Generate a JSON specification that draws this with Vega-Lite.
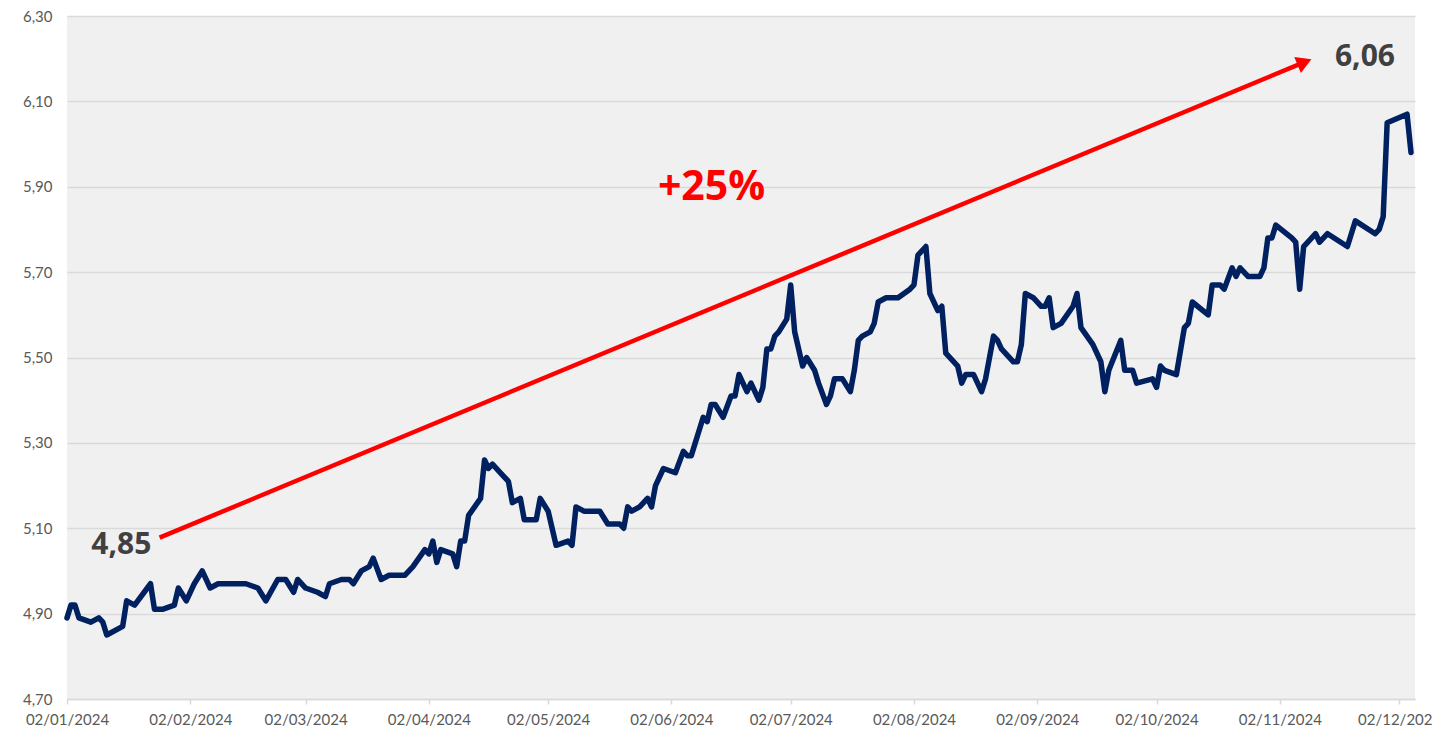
{
  "$schema": "https://vega.github.io/schema/vega-lite/v6.json",
  "width": 1348,
  "height": 683,
  "autosize": {"type": "none"},
  "padding": {"left": 67, "top": 16, "right": 17, "bottom": 38},
  "background": "#ffffff",
  "config": {
    "view": {"fill": "#f0f0f0", "stroke": null},
    "font": "Lato"
  },
  "datasets": {
    "series": [
      {"date": "2024-01-02", "value": 4.89}, {"date": "2024-01-03", "value": 4.92}, {"date": "2024-01-04", "value": 4.92}, {"date": "2024-01-05", "value": 4.89},
      {"date": "2024-01-08", "value": 4.88}, {"date": "2024-01-10", "value": 4.89}, {"date": "2024-01-11", "value": 4.88}, {"date": "2024-01-12", "value": 4.85},
      {"date": "2024-01-16", "value": 4.87}, {"date": "2024-01-17", "value": 4.93}, {"date": "2024-01-19", "value": 4.92}, {"date": "2024-01-23", "value": 4.97},
      {"date": "2024-01-24", "value": 4.91}, {"date": "2024-01-26", "value": 4.91}, {"date": "2024-01-29", "value": 4.92}, {"date": "2024-01-30", "value": 4.96},
      {"date": "2024-02-01", "value": 4.93}, {"date": "2024-02-03", "value": 4.97}, {"date": "2024-02-05", "value": 5.00}, {"date": "2024-02-07", "value": 4.96},
      {"date": "2024-02-09", "value": 4.97}, {"date": "2024-02-10", "value": 4.97}, {"date": "2024-02-16", "value": 4.97}, {"date": "2024-02-19", "value": 4.96},
      {"date": "2024-02-21", "value": 4.93}, {"date": "2024-02-24", "value": 4.98}, {"date": "2024-02-26", "value": 4.98}, {"date": "2024-02-28", "value": 4.95},
      {"date": "2024-02-29", "value": 4.98}, {"date": "2024-03-02", "value": 4.96}, {"date": "2024-03-05", "value": 4.95}, {"date": "2024-03-07", "value": 4.94},
      {"date": "2024-03-08", "value": 4.97}, {"date": "2024-03-11", "value": 4.98}, {"date": "2024-03-13", "value": 4.98}, {"date": "2024-03-14", "value": 4.97},
      {"date": "2024-03-16", "value": 5.00}, {"date": "2024-03-18", "value": 5.01}, {"date": "2024-03-19", "value": 5.03}, {"date": "2024-03-21", "value": 4.98},
      {"date": "2024-03-23", "value": 4.99}, {"date": "2024-03-27", "value": 4.99}, {"date": "2024-03-29", "value": 5.01}, {"date": "2024-04-01", "value": 5.05},
      {"date": "2024-04-02", "value": 5.04}, {"date": "2024-04-03", "value": 5.07}, {"date": "2024-04-04", "value": 5.02}, {"date": "2024-04-05", "value": 5.05},
      {"date": "2024-04-08", "value": 5.04}, {"date": "2024-04-09", "value": 5.01}, {"date": "2024-04-10", "value": 5.07}, {"date": "2024-04-11", "value": 5.07},
      {"date": "2024-04-12", "value": 5.13}, {"date": "2024-04-15", "value": 5.17}, {"date": "2024-04-16", "value": 5.26}, {"date": "2024-04-17", "value": 5.24},
      {"date": "2024-04-18", "value": 5.25}, {"date": "2024-04-20", "value": 5.23}, {"date": "2024-04-22", "value": 5.21}, {"date": "2024-04-23", "value": 5.16},
      {"date": "2024-04-25", "value": 5.17}, {"date": "2024-04-26", "value": 5.12}, {"date": "2024-04-29", "value": 5.12}, {"date": "2024-04-30", "value": 5.17},
      {"date": "2024-05-02", "value": 5.14}, {"date": "2024-05-04", "value": 5.06}, {"date": "2024-05-07", "value": 5.07}, {"date": "2024-05-08", "value": 5.06},
      {"date": "2024-05-09", "value": 5.15}, {"date": "2024-05-11", "value": 5.14}, {"date": "2024-05-14", "value": 5.14}, {"date": "2024-05-15", "value": 5.14},
      {"date": "2024-05-17", "value": 5.11}, {"date": "2024-05-20", "value": 5.11}, {"date": "2024-05-21", "value": 5.10}, {"date": "2024-05-22", "value": 5.15},
      {"date": "2024-05-23", "value": 5.14}, {"date": "2024-05-25", "value": 5.15}, {"date": "2024-05-27", "value": 5.17}, {"date": "2024-05-28", "value": 5.15},
      {"date": "2024-05-29", "value": 5.20}, {"date": "2024-05-31", "value": 5.24}, {"date": "2024-06-03", "value": 5.23}, {"date": "2024-06-05", "value": 5.28},
      {"date": "2024-06-06", "value": 5.27}, {"date": "2024-06-07", "value": 5.27}, {"date": "2024-06-10", "value": 5.36}, {"date": "2024-06-11", "value": 5.35},
      {"date": "2024-06-12", "value": 5.39}, {"date": "2024-06-13", "value": 5.39}, {"date": "2024-06-15", "value": 5.36}, {"date": "2024-06-17", "value": 5.41},
      {"date": "2024-06-18", "value": 5.41}, {"date": "2024-06-19", "value": 5.46}, {"date": "2024-06-20", "value": 5.44}, {"date": "2024-06-21", "value": 5.42},
      {"date": "2024-06-22", "value": 5.44}, {"date": "2024-06-24", "value": 5.40}, {"date": "2024-06-25", "value": 5.43}, {"date": "2024-06-26", "value": 5.52},
      {"date": "2024-06-27", "value": 5.52}, {"date": "2024-06-28", "value": 5.55}, {"date": "2024-06-29", "value": 5.56}, {"date": "2024-07-01", "value": 5.59},
      {"date": "2024-07-02", "value": 5.67}, {"date": "2024-07-03", "value": 5.56}, {"date": "2024-07-05", "value": 5.48}, {"date": "2024-07-06", "value": 5.50},
      {"date": "2024-07-08", "value": 5.47}, {"date": "2024-07-09", "value": 5.44}, {"date": "2024-07-11", "value": 5.39}, {"date": "2024-07-12", "value": 5.41},
      {"date": "2024-07-13", "value": 5.45}, {"date": "2024-07-15", "value": 5.45}, {"date": "2024-07-17", "value": 5.42}, {"date": "2024-07-18", "value": 5.47},
      {"date": "2024-07-19", "value": 5.54}, {"date": "2024-07-20", "value": 5.55}, {"date": "2024-07-22", "value": 5.56}, {"date": "2024-07-23", "value": 5.58},
      {"date": "2024-07-24", "value": 5.63}, {"date": "2024-07-26", "value": 5.64}, {"date": "2024-07-29", "value": 5.64}, {"date": "2024-08-01", "value": 5.66},
      {"date": "2024-08-02", "value": 5.67}, {"date": "2024-08-03", "value": 5.74}, {"date": "2024-08-05", "value": 5.76}, {"date": "2024-08-06", "value": 5.65},
      {"date": "2024-08-08", "value": 5.61}, {"date": "2024-08-09", "value": 5.62}, {"date": "2024-08-10", "value": 5.51}, {"date": "2024-08-13", "value": 5.48},
      {"date": "2024-08-14", "value": 5.44}, {"date": "2024-08-15", "value": 5.46}, {"date": "2024-08-17", "value": 5.46}, {"date": "2024-08-19", "value": 5.42},
      {"date": "2024-08-20", "value": 5.45}, {"date": "2024-08-22", "value": 5.55}, {"date": "2024-08-23", "value": 5.54}, {"date": "2024-08-24", "value": 5.52},
      {"date": "2024-08-27", "value": 5.49}, {"date": "2024-08-28", "value": 5.49}, {"date": "2024-08-29", "value": 5.53}, {"date": "2024-08-30", "value": 5.65},
      {"date": "2024-09-01", "value": 5.64}, {"date": "2024-09-03", "value": 5.62}, {"date": "2024-09-04", "value": 5.62}, {"date": "2024-09-05", "value": 5.64},
      {"date": "2024-09-06", "value": 5.57}, {"date": "2024-09-08", "value": 5.58}, {"date": "2024-09-11", "value": 5.62}, {"date": "2024-09-12", "value": 5.65},
      {"date": "2024-09-13", "value": 5.57}, {"date": "2024-09-16", "value": 5.53}, {"date": "2024-09-18", "value": 5.49}, {"date": "2024-09-19", "value": 5.42},
      {"date": "2024-09-20", "value": 5.47}, {"date": "2024-09-23", "value": 5.54}, {"date": "2024-09-24", "value": 5.47}, {"date": "2024-09-26", "value": 5.47},
      {"date": "2024-09-27", "value": 5.44}, {"date": "2024-10-01", "value": 5.45}, {"date": "2024-10-02", "value": 5.43}, {"date": "2024-10-03", "value": 5.48},
      {"date": "2024-10-04", "value": 5.47}, {"date": "2024-10-07", "value": 5.46}, {"date": "2024-10-09", "value": 5.57}, {"date": "2024-10-10", "value": 5.58},
      {"date": "2024-10-11", "value": 5.63}, {"date": "2024-10-15", "value": 5.60}, {"date": "2024-10-16", "value": 5.67}, {"date": "2024-10-18", "value": 5.67},
      {"date": "2024-10-19", "value": 5.66}, {"date": "2024-10-21", "value": 5.71}, {"date": "2024-10-22", "value": 5.69}, {"date": "2024-10-23", "value": 5.71},
      {"date": "2024-10-25", "value": 5.69}, {"date": "2024-10-28", "value": 5.69}, {"date": "2024-10-29", "value": 5.71}, {"date": "2024-10-30", "value": 5.78},
      {"date": "2024-10-31", "value": 5.78}, {"date": "2024-11-01", "value": 5.81}, {"date": "2024-11-05", "value": 5.78}, {"date": "2024-11-06", "value": 5.77},
      {"date": "2024-11-07", "value": 5.66}, {"date": "2024-11-08", "value": 5.76}, {"date": "2024-11-11", "value": 5.79}, {"date": "2024-11-12", "value": 5.77},
      {"date": "2024-11-14", "value": 5.79}, {"date": "2024-11-19", "value": 5.76}, {"date": "2024-11-21", "value": 5.82}, {"date": "2024-11-26", "value": 5.79},
      {"date": "2024-11-27", "value": 5.80}, {"date": "2024-11-28", "value": 5.83}, {"date": "2024-11-29", "value": 6.05}, {"date": "2024-12-04", "value": 6.07},
      {"date": "2024-12-05", "value": 5.98}
    ],
    "arrow": [
      {"date": "2024-01-25T07:00:00Z", "value": 5.078, "date2": "2024-11-08T05:00:00Z", "value2": 6.192}
    ],
    "endLabels": [
      {"date": "2024-01-15T16:00:00Z", "value": 5.061, "label": "4,85"},
      {"date": "2024-11-23T10:00:00Z", "value": 6.204, "label": "6,06"}
    ],
    "changeLabel": [
      {"date": "2024-06-12T02:00:00Z", "value": 5.897, "label": "+25%"}
    ]
  },
  "encoding": {
    "x": {
      "field": "date", "type": "temporal",
      "scale": {"type": "utc", "domain": [{"year": 2024, "month": 1, "date": 2, "utc": true}, {"year": 2024, "month": 12, "date": 6, "utc": true}], "nice": false},
      "axis": {
        "title": null,
        "values": [
          {"year": 2024, "month": 1, "date": 2, "utc": true}, {"year": 2024, "month": 2, "date": 2, "utc": true},
          {"year": 2024, "month": 3, "date": 2, "utc": true}, {"year": 2024, "month": 4, "date": 2, "utc": true},
          {"year": 2024, "month": 5, "date": 2, "utc": true}, {"year": 2024, "month": 6, "date": 2, "utc": true},
          {"year": 2024, "month": 7, "date": 2, "utc": true}, {"year": 2024, "month": 8, "date": 2, "utc": true},
          {"year": 2024, "month": 9, "date": 2, "utc": true}, {"year": 2024, "month": 10, "date": 2, "utc": true},
          {"year": 2024, "month": 11, "date": 2, "utc": true}, {"year": 2024, "month": 12, "date": 2, "utc": true}
        ],
        "labelExpr": "utcFormat(datum.value, '%d/%m/%Y')",
        "grid": false,
        "domainColor": "#d9d9d9", "domainWidth": 1.5,
        "tickColor": "#d9d9d9", "tickWidth": 1.5, "tickSize": 5,
        "labelPadding": 8, "labelFont": "Lato", "labelFontSize": 15, "labelColor": "#595959",
        "labelFlush": false, "labelOverlap": false
      }
    },
    "y": {
      "field": "value", "type": "quantitative",
      "scale": {"domain": [4.7, 6.3], "nice": false, "zero": false},
      "axis": {
        "title": null,
        "values": [4.7, 4.9, 5.1, 5.3, 5.5, 5.7, 5.9, 6.1, 6.3],
        "labelExpr": "replace(format(datum.value, '.2f'), '.', ',')",
        "domain": false, "ticks": false,
        "grid": true, "gridColor": "#d9d9d9", "gridWidth": 1.5,
        "labelPadding": 15, "labelFont": "Lato", "labelFontSize": 15, "labelColor": "#595959"
      }
    }
  },
  "layer": [
    {
      "data": {"name": "series"},
      "mark": {"type": "line", "color": "#002060", "strokeWidth": 5.5, "strokeJoin": "round", "strokeCap": "round"}
    },
    {
      "data": {"name": "arrow"},
      "mark": {"type": "rule", "color": "#ff0000", "strokeWidth": 4.5},
      "encoding": {
        "x2": {"field": "date2"},
        "y2": {"field": "value2"}
      }
    },
    {
      "data": {"name": "arrow"},
      "mark": {"type": "point", "shape": "triangle-right", "filled": true, "color": "#ff0000", "opacity": 1, "size": 300, "angle": 337.5},
      "encoding": {
        "x": {"field": "date2", "type": "temporal"},
        "y": {"field": "value2", "type": "quantitative"}
      }
    },
    {
      "data": {"name": "endLabels"},
      "mark": {"type": "text", "font": "Open Sans", "fontWeight": "bold", "fontSize": 30, "color": "#404040", "align": "center", "baseline": "middle"},
      "encoding": {
        "text": {"field": "label"}
      }
    },
    {
      "data": {"name": "changeLabel"},
      "mark": {"type": "text", "font": "Open Sans", "fontWeight": "bold", "fontSize": 41, "color": "#ff0000", "align": "center", "baseline": "middle"},
      "encoding": {
        "text": {"field": "label"}
      }
    }
  ]
}
